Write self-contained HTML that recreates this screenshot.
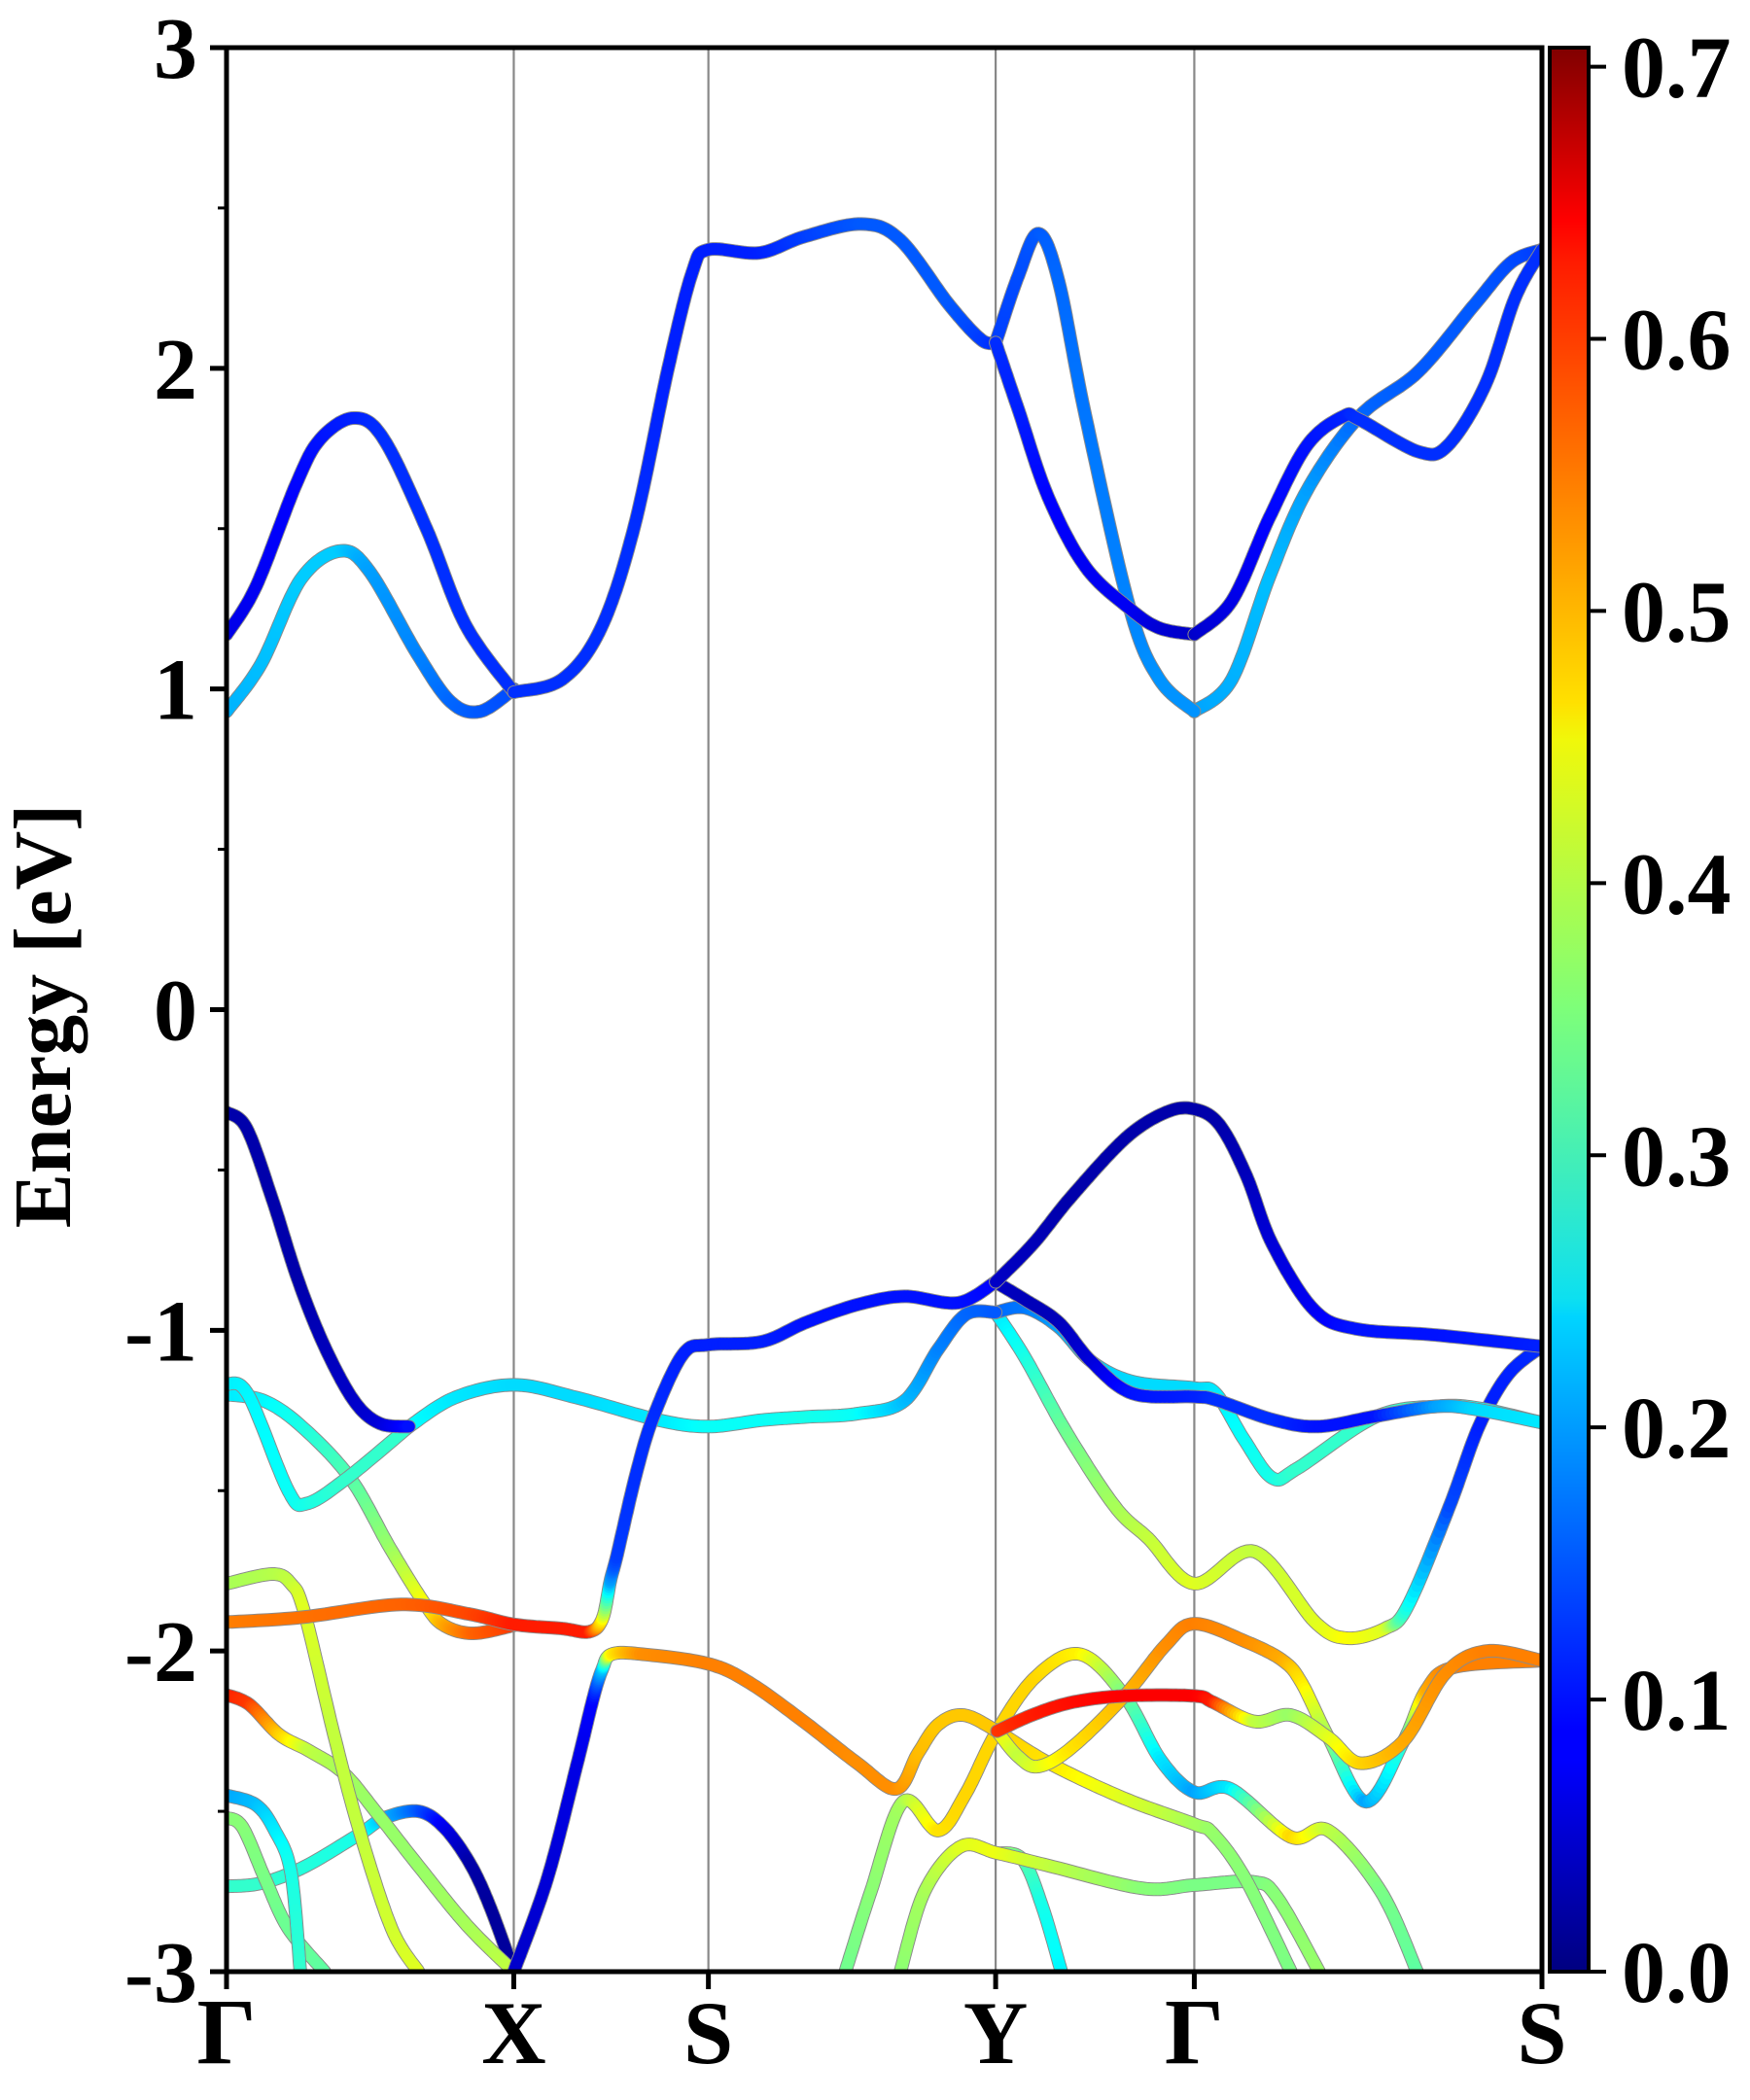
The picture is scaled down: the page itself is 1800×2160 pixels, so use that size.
<!DOCTYPE html>
<html>
<head>
<meta charset="utf-8">
<style>
  html,body{margin:0;padding:0;background:#fff;}
  svg{display:block;}
  text{font-family:"Liberation Serif","DejaVu Serif",serif;font-weight:bold;fill:#000;}
</style>
</head>
<body>
<svg id="chart" width="1800" height="2160" viewBox="0 0 1800 2160" xmlns="http://www.w3.org/2000/svg">
  <defs>
    <clipPath id="plotclip"><rect x="233" y="49" width="1353" height="1979"/></clipPath>
    <linearGradient id="jetgrad" x1="0" y1="1" x2="0" y2="0">
      <stop offset="0" stop-color="#000080"/>
      <stop offset="0.11" stop-color="#0000ff"/>
      <stop offset="0.125" stop-color="#0000ff"/>
      <stop offset="0.34" stop-color="#00d4ff"/>
      <stop offset="0.35" stop-color="#0de0f0"/>
      <stop offset="0.5" stop-color="#7dff7a"/>
      <stop offset="0.64" stop-color="#f0f80a"/>
      <stop offset="0.66" stop-color="#ffe000"/>
      <stop offset="0.89" stop-color="#ff1a00"/>
      <stop offset="0.91" stop-color="#ff0000"/>
      <stop offset="1" stop-color="#800000"/>
    </linearGradient>
  </defs>
  <g id="gridlines"></g>
  <g id="bands" clip-path="url(#plotclip)"></g>
  <g id="axes"></g>
  <g id="colorbar"></g>
  <text x="0" y="0" font-size="84" text-anchor="middle" transform="translate(72,1045) rotate(-90)">Energy [eV]</text>
</svg>
<script>
// ---- data ----
const kLabels = ["Γ","X","S","Y","Γ","S"];
const kTicks = [170, 384, 529, 743, 891, 1150];
const yTicks = [-3,-2,-1,0,1,2,3];
const yMinor = [-2.5,-1.5,-0.5,0.5,1.5,2.5];
const cbTicks = [0.0,0.1,0.2,0.3,0.4,0.5,0.6,0.7];
const cbMax = 0.707;

const c1k=[170,192,222,240,265,287,319,348,384];
const c1e=[1.17,1.32,1.64,1.78,1.845,1.78,1.50,1.20,0.99];
const c1w=[0.07,0.08,0.09,0.10,0.11,0.12,0.12,0.12,0.12];
const c2k=[170,196,225,254,276,312,337,359,384];
const c2e=[0.93,1.08,1.34,1.43,1.37,1.11,0.96,0.93,1.0];
const c2w=[0.21,0.22,0.23,0.23,0.20,0.18,0.16,0.15,0.14];
const c3k=[384,420,449,474,499,517,529,567,600,643,672,708,732,743];
const c3e=[0.99,1.03,1.19,1.51,2.0,2.3,2.37,2.36,2.41,2.45,2.40,2.20,2.09,2.08];
const c3w=[0.12,0.12,0.12,0.12,0.11,0.11,0.11,0.11,0.13,0.15,0.15,0.15,0.13,0.12];
const c4k=[743,760,775,790,810,843,865,891];
const c4e=[2.08,2.29,2.42,2.27,1.85,1.25,1.03,0.93];
const c4w=[0.13,0.14,0.15,0.16,0.17,0.18,0.19,0.19];
const c5k=[743,760,782,810,843,865,891];
const c5e=[2.08,1.87,1.60,1.38,1.25,1.19,1.17];
const c5w=[0.12,0.11,0.09,0.08,0.08,0.06,0.05];
const c6k=[891,919,947,975,1002,1014,1058,1080,1108,1130,1150];
const c6e=[1.17,1.275,1.535,1.76,1.85,1.84,1.74,1.76,1.95,2.22,2.37];
const c6w=[0.05,0.07,0.09,0.10,0.11,0.12,0.12,0.12,0.12,0.12,0.12];
const c7k=[891,919,947,975,1014,1058,1100,1127,1150];
const c7e=[0.93,1.03,1.35,1.62,1.85,1.99,2.2,2.33,2.37];
const c7w=[0.20,0.21,0.22,0.20,0.16,0.15,0.15,0.14,0.13];

const v1k=[170,185,204,223,243,265,284,306];
const v1e=[-0.32,-0.37,-0.59,-0.84,-1.05,-1.22,-1.29,-1.30];
const v1w=[0.03,0.03,0.03,0.03,0.04,0.05,0.06,0.10];
const v2k=[306,340,384,431,492,529,569,602,640,675,700,721,743];
const v2e=[-1.30,-1.21,-1.17,-1.21,-1.28,-1.30,-1.28,-1.27,-1.26,-1.22,-1.06,-0.95,-0.944];
const v2w=[0.27,0.25,0.24,0.24,0.25,0.27,0.27,0.28,0.27,0.22,0.18,0.16,0.15];
const v3k=[170,186,216,230,260,306];
const v3e=[-1.167,-1.20,-1.50,-1.54,-1.46,-1.30];
const v3w=[0.25,0.26,0.27,0.28,0.30,0.30];
const v4k=[170,198,226,262,292,318,332,354,384];
const v4e=[-1.20,-1.22,-1.30,-1.46,-1.68,-1.855,-1.92,-1.945,-1.92];
const v4w=[0.25,0.26,0.28,0.32,0.37,0.44,0.50,0.55,0.58];
const v5k=[170,226,300,351,384,420,440,450,456,461,475,488,510,529,569,602,640,675,715,743];
const v5e=[-1.91,-1.895,-1.855,-1.885,-1.917,-1.93,-1.94,-1.90,-1.78,-1.70,-1.45,-1.27,-1.075,-1.045,-1.035,-0.975,-0.92,-0.894,-0.914,-0.849];
const v5w=[0.53,0.54,0.55,0.57,0.60,0.60,0.60,0.45,0.20,0.13,0.12,0.12,0.11,0.11,0.11,0.10,0.10,0.10,0.10,0.09];
const v6k=[743,771,800,840,870,891,910,930,949,980,1011,1072,1150];
const v6e=[-0.849,-0.73,-0.58,-0.40,-0.32,-0.31,-0.36,-0.52,-0.73,-0.935,-0.995,-1.015,-1.05];
const v6w=[0.05,0.04,0.03,0.03,0.03,0.03,0.03,0.04,0.06,0.08,0.10,0.10,0.11];
const v7k=[743,765,790,814,845,891,907,949,983,1026,1072,1103,1150];
const v7e=[-0.85,-0.905,-0.975,-1.096,-1.197,-1.207,-1.217,-1.278,-1.30,-1.268,-1.237,-1.248,-1.288];
const v7w=[0.05,0.04,0.04,0.06,0.10,0.11,0.12,0.12,0.10,0.10,0.20,0.24,0.25];
const v8k=[743,765,790,814,845,891,907,928,949,968,1026,1072,1103,1150];
const v8e=[-0.944,-0.93,-0.99,-1.096,-1.16,-1.18,-1.197,-1.34,-1.46,-1.43,-1.27,-1.237,-1.243,-1.288];
const v8w=[0.16,0.17,0.20,0.23,0.24,0.24,0.25,0.27,0.28,0.30,0.30,0.30,0.27,0.25];
const v9k=[743,765,796,832,857,891,936,981,1005,1033,1050,1081,1103,1125,1150];
const v9e=[-0.944,-1.086,-1.32,-1.55,-1.65,-1.79,-1.69,-1.91,-1.96,-1.93,-1.86,-1.55,-1.30,-1.137,-1.05];
const v9w=[0.24,0.28,0.34,0.38,0.40,0.42,0.40,0.42,0.44,0.42,0.28,0.14,0.11,0.11,0.12];
const v10k=[384,409,431,443,450,457,480,529,560,600,640,669,685,700,719,744,783,839,891,905,929,963];
const v10e=[-3.0,-2.71,-2.355,-2.15,-2.056,-2.01,-2.01,-2.04,-2.10,-2.22,-2.35,-2.43,-2.32,-2.23,-2.20,-2.25,-2.35,-2.46,-2.54,-2.57,-2.71,-3.0];
const v10w=[0.05,0.06,0.07,0.09,0.22,0.45,0.52,0.53,0.53,0.53,0.52,0.52,0.49,0.48,0.48,0.48,0.46,0.42,0.38,0.37,0.36,0.35];
const v11k=[631,650,674,700,720,744,773,806,839,866,891,918,963,991,1030,1057];
const v11e=[-3.0,-2.75,-2.47,-2.56,-2.45,-2.25,-2.08,-2.01,-2.14,-2.34,-2.44,-2.43,-2.58,-2.56,-2.75,-3.0];
const v11w=[0.34,0.36,0.38,0.46,0.47,0.47,0.47,0.45,0.35,0.25,0.20,0.25,0.47,0.40,0.35,0.33];
const v12k=[744,770,800,839,891,905,936,963,991,1015,1047,1078,1109,1150];
const v12e=[-2.25,-2.20,-2.16,-2.14,-2.14,-2.16,-2.22,-2.20,-2.27,-2.35,-2.28,-2.07,-2.0,-2.03];
const v12w=[0.58,0.60,0.61,0.62,0.62,0.60,0.40,0.37,0.42,0.47,0.50,0.52,0.53,0.53];
const v13k=[744,760,775,800,839,870,891,929,957,971,991,1019,1047,1064,1085,1150];
const v13e=[-2.25,-2.33,-2.36,-2.30,-2.14,-1.98,-1.915,-1.97,-2.03,-2.10,-2.27,-2.47,-2.28,-2.12,-2.05,-2.03];
const v13w=[0.45,0.40,0.42,0.46,0.49,0.52,0.53,0.52,0.50,0.46,0.38,0.20,0.30,0.50,0.53,0.53];
const v14k=[672,690,717,744,783,852,891,935,953,984];
const v14e=[-3.0,-2.75,-2.61,-2.63,-2.67,-2.74,-2.73,-2.72,-2.77,-3.0];
const v14w=[0.36,0.38,0.42,0.43,0.40,0.36,0.35,0.35,0.36,0.37];
const v15k=[744,763,778,792];
const v15e=[-2.63,-2.65,-2.80,-3.0];
const v15w=[0.40,0.33,0.28,0.26];
const v16k=[170,204,218,228,250,269,293,313];
const v16e=[-1.79,-1.76,-1.79,-1.88,-2.26,-2.56,-2.865,-3.0];
const v16w=[0.38,0.39,0.40,0.42,0.40,0.40,0.41,0.42];
const v17k=[170,187,209,231,257,281,313,349,384];
const v17e=[-2.137,-2.167,-2.26,-2.31,-2.38,-2.50,-2.67,-2.855,-3.0];
const v17w=[0.60,0.58,0.48,0.40,0.38,0.37,0.37,0.38,0.40];
const v18k=[170,192,206,218,225];
const v18e=[-2.45,-2.48,-2.56,-2.69,-3.0];
const v18w=[0.20,0.22,0.25,0.28,0.30];
const v19k=[170,182,199,216,243];
const v19e=[-2.52,-2.55,-2.713,-2.865,-3.0];
const v19w=[0.36,0.36,0.35,0.34,0.33];
const v20k=[170,196,228,269,288,313,332,351,366,384];
const v20e=[-2.734,-2.724,-2.673,-2.571,-2.52,-2.50,-2.55,-2.66,-2.794,-3.0];
const v20w=[0.30,0.30,0.29,0.28,0.22,0.15,0.08,0.03,0.02,0.02];

const bandList = [
  ["band-v20",v20k,v20e,v20w],["band-v19",v19k,v19e,v19w],["band-v18",v18k,v18e,v18w],
  ["band-v17",v17k,v17e,v17w],["band-v16",v16k,v16e,v16w],["band-v15",v15k,v15e,v15w],
  ["band-v14",v14k,v14e,v14w],["band-v11",v11k,v11e,v11w],["band-v10",v10k,v10e,v10w],
  ["band-v13",v13k,v13e,v13w],["band-v12",v12k,v12e,v12w],["band-v9",v9k,v9e,v9w],
  ["band-v8",v8k,v8e,v8w],["band-v7",v7k,v7e,v7w],["band-v4",v4k,v4e,v4w],
  ["band-v3",v3k,v3e,v3w],["band-v2",v2k,v2e,v2w],["band-v5",v5k,v5e,v5w],
  ["band-v1",v1k,v1e,v1w],["band-v6",v6k,v6e,v6w],
  ["band-c2",c2k,c2e,c2w],["band-c1",c1k,c1e,c1w],["band-c3",c3k,c3e,c3w],
  ["band-c7",c7k,c7e,c7w],["band-c4",c4k,c4e,c4w],["band-c5",c5k,c5e,c5w],["band-c6",c6k,c6e,c6w]
];

// ---- scales ----
const X0=233, X1=1586, Y0=49, Y1=2028;
const KMIN=170, KMAX=1150, EMIN=-3, EMAX=3;
function xs(k){return X0+(k-KMIN)*(X1-X0)/(KMAX-KMIN);}
function ys(e){return Y0+(EMAX-e)*(Y1-Y0)/(EMAX-EMIN);}
function jet(v){
  const t=Math.max(0,Math.min(1,v/cbMax));
  function f(x){return Math.max(0,Math.min(1,x));}
  const r=f(1.5-Math.abs(4*t-3)), g=f(1.5-Math.abs(4*t-2)), b=f(1.5-Math.abs(4*t-1));
  return "rgb("+Math.round(r*255)+","+Math.round(g*255)+","+Math.round(b*255)+")";
}
const NS="http://www.w3.org/2000/svg";
function mk(tag,attrs,parent){const el=document.createElementNS(NS,tag);for(const a in attrs)el.setAttribute(a,attrs[a]);parent.appendChild(el);return el;}

// ---- high symmetry lines ----
const gl=document.getElementById("gridlines");
for(let i=1;i<kTicks.length-1;i++){
  const l=mk("line",{x1:xs(kTicks[i]),x2:xs(kTicks[i]),y1:Y0,y2:Y1,stroke:"#888",'stroke-width':2.2},gl);
  
  
}

// ---- bands ----
const bg=document.getElementById("bands");
function sample(ks,es,ws){
  const P=ks.map((k,i)=>[xs(k),ys(es[i]),ws[i]]);
  const out=[];
  const n=P.length;
  for(let i=0;i<n-1;i++){
    const p0=P[Math.max(0,i-1)],p1=P[i],p2=P[i+1],p3=P[Math.min(n-1,i+2)];
    const S=16;
    for(let s=0;s<S;s++){
      const t=s/S,t2=t*t,t3=t2*t;
      const x=0.5*((2*p1[0])+(-p0[0]+p2[0])*t+(2*p0[0]-5*p1[0]+4*p2[0]-p3[0])*t2+(-p0[0]+3*p1[0]-3*p2[0]+p3[0])*t3);
      const y=0.5*((2*p1[1])+(-p0[1]+p2[1])*t+(2*p0[1]-5*p1[1]+4*p2[1]-p3[1])*t2+(-p0[1]+3*p1[1]-3*p2[1]+p3[1])*t3);
      out.push([x,y,p1[2]+(p2[2]-p1[2])*t]);
    }
  }
  const L=P[n-1];out.push([L[0],L[1],L[2]]);
  return out;
}
bandList.forEach(b=>{
  const g=mk("g",{},bg);
  
  
  const pts=sample(b[1],b[2],b[3]);
  let d="M"+pts.map(p=>p[0].toFixed(1)+","+p[1].toFixed(1)).join(" L");
  mk("path",{d:d,fill:"none",stroke:"#8a8a8a",'stroke-width':14,'stroke-linejoin':"round",'stroke-linecap':"round"},g);
  for(let i=0;i<pts.length-1;i++){
    const a=pts[i],c=pts[i+1];
    mk("line",{x1:a[0].toFixed(1),y1:a[1].toFixed(1),x2:c[0].toFixed(1),y2:c[1].toFixed(1),stroke:jet((a[2]+c[2])/2),'stroke-width':12,'stroke-linecap':"round"},g);
  }
});

// ---- axes ----
const ax=document.getElementById("axes");
const frame=mk("rect",{x:X0,y:Y0,width:X1-X0,height:Y1-Y0,fill:"none",stroke:"#000",'stroke-width':5},ax);


yTicks.forEach(v=>{
  const y=ys(v);
  mk("line",{x1:X0-17,x2:X0,y1:y,y2:y,stroke:"#000",'stroke-width':5},ax);
  const t=mk("text",{x:203,y:y+31,'font-size':90,'text-anchor':"end"},ax);
  t.textContent=String(v);
  
  
});
yMinor.forEach(v=>{
  const y=ys(v);
  mk("line",{x1:X0-9,x2:X0,y1:y,y2:y,stroke:"#000",'stroke-width':3},ax);
});
kTicks.forEach((k,i)=>{
  const x=xs(k);
  mk("line",{x1:x,x2:x,y1:Y1,y2:Y1+18,stroke:"#000",'stroke-width':5},ax);
  const t=mk("text",{x:x,y:2122,'font-size':92,'text-anchor':"middle"},ax);
  if(kLabels[i]==="Γ"){t.setAttribute('font-family','"Liberation Sans", sans-serif');t.setAttribute('font-weight','normal');t.setAttribute('font-size','96');}
  t.textContent=kLabels[i];
  
  
});

// ---- colorbar ----
const cb=document.getElementById("colorbar");
const CBX=1594, CBW=40;
const cbr=mk("rect",{x:CBX,y:Y0,width:CBW,height:Y1-Y0,fill:"url(#jetgrad)",stroke:"#000",'stroke-width':4},cb);


cbTicks.forEach(v=>{
  const y=Y1-(v/cbMax)*(Y1-Y0);
  mk("line",{x1:CBX+CBW,x2:CBX+CBW+18,y1:y,y2:y,stroke:"#000",'stroke-width':4},cb);
  const t=mk("text",{x:1668,y:y+31,'font-size':90},cb);
  t.textContent=v.toFixed(1);
  
  
});
</script>
</body>
</html>
